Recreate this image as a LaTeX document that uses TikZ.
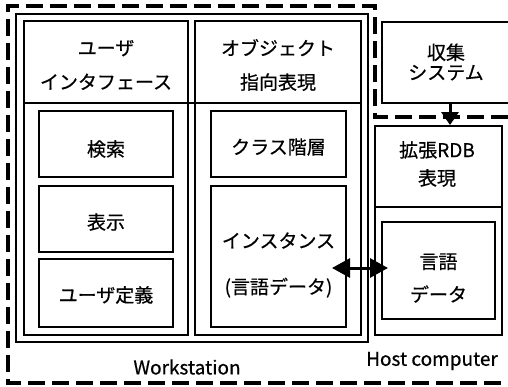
\documentclass[tikz,border=0pt]{standalone}
\usepackage{fontspec}
\setmainfont{Noto Sans CJK JP}[FakeBold=0.6]
\usetikzlibrary{arrows.meta,calc}
\tikzset{
  box/.style={draw, line width=1.9pt, rectangle, inner sep=0pt},
  lbl/.style={font=\fontsize{19}{22}\selectfont, align=center, inner sep=0pt},
  outerdash/.style={line width=3.2pt, dash pattern=on 17pt off 7pt},
  bigarrow/.style={line width=3pt, -{Triangle[length=13pt,width=17pt]}},
  dblarrow/.style={line width=3pt, {Triangle[length=18pt,width=19pt]}-{Triangle[length=18pt,width=19pt]}}
}
\begin{document}
\begin{tikzpicture}[x=1pt,y=-1pt]
\useasboundingbox (0,0) rectangle (508,387);
% outer dashed region
\draw[outerdash] (508,117) -- (375,117) -- (375,6) -- (8,6) -- (8,383) -- (508,383);
% workstation
\node[box, minimum width=352pt, minimum height=328pt] (ws) at (192,178) {};
\node[box, minimum width=164pt, minimum height=314pt] (col1) at (106,178) {};
\node[box, minimum width=166pt, minimum height=314pt] (col2) at (278,178) {};
\coordinate (d1) at (24,103);
\draw[line width=1.9pt] (d1) -- (d1 -| col2.east);
\node[lbl] (uih) at (106,65) {ユーザ\\[12pt]インタフェース};
\node[lbl] (ooh) at (278,65) {オブジェクト\\[12pt]指向表現};
\node[box, minimum width=134pt, minimum height=66pt] (ken) at (106,144) {};
\node[lbl] at (106,149) {検索};
\node[box, minimum width=134pt, minimum height=66pt] (hyo) at (106,219) {};
\node[lbl] at (106,222) {表示};
\node[box, minimum width=134pt, minimum height=68pt] (ud) at (106,293) {};
\node[lbl] at (106,295) {ユーザ定義};
\node[box, minimum width=135pt, minimum height=66pt] (cls) at (278.5,144) {};
\node[lbl] at (278.5,147) {クラス階層};
\node[box, minimum width=135pt, minimum height=141pt] (inst) at (278.5,256.5) {};
\node[lbl] at (278.5,265) {インスタンス\\[24pt](言語データ)};
\node[lbl] (wsl) at (187,367) {Workstation};
% host computer
\node[minimum width=126pt, minimum height=81pt, inner sep=0pt] (shu) at (445,62.5) {};
\draw[line width=1.9pt] (shu.north east) -- (shu.north west) -- (shu.south west) -- (shu.south east);
\node[lbl] at (446,62) {収集\\[-2pt]システム};
\node[box, minimum width=127pt, minimum height=209pt] (rdb) at (438.5,230.5) {};
\coordinate (d2) at (375,207);
\draw[line width=1.9pt] (d2) -- (d2 -| rdb.east);
\node[lbl] at (437,164) {拡張RDB\\[6pt]表現};
\node[box, minimum width=113pt, minimum height=97pt] (gd) at (438.5,270.5) {};
\node[lbl] at (438.5,278) {言語\\[11pt]データ};
\node[lbl] (hcl) at (432,361) {Host computer};
% arrows
\coordinate (a1) at (450,103);
\draw[bigarrow] (a1) -- (a1 |- rdb.north);
\coordinate (dl) at (332,268);
\coordinate (dr) at (388,268);
\draw[dblarrow] (dl) -- (dr);
\end{tikzpicture}
\end{document}
